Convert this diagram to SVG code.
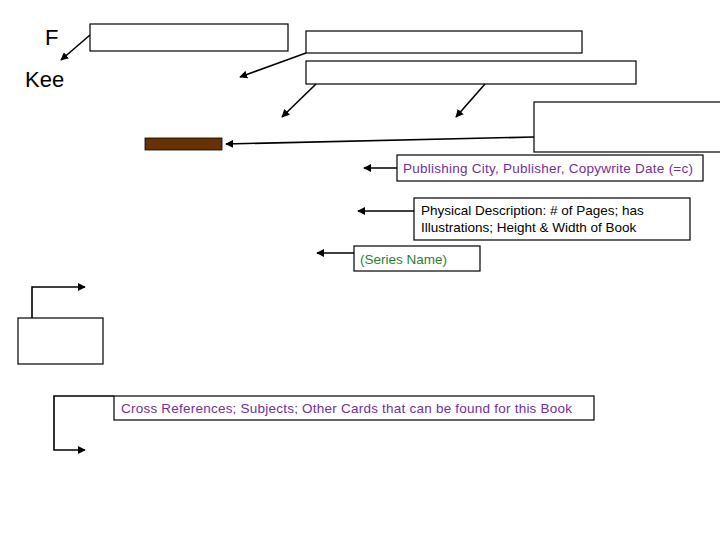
<svg xmlns="http://www.w3.org/2000/svg" width="720" height="540" viewBox="0 0 720 540">
<style>
.b{fill:#fff;stroke:#000;stroke-width:1.2}
.c{fill:none;stroke:#000;stroke-width:1.6}
.t{font-family:"Liberation Sans",Arial,sans-serif;font-size:13.5px;fill:#7030a0}
.k{font-family:"Liberation Sans",Arial,sans-serif;font-size:22px;fill:#000}
</style>
<defs><marker id="a" viewBox="0 0 10 10" refX="9" refY="5" markerWidth="5" markerHeight="5" orient="auto"><path d="M0,0L10,5L0,10z" fill="#000"/></marker></defs>
<rect width="720" height="540" fill="#fff"/>
<text class="k" x="45" y="45">F</text>
<text class="k" x="25" y="87">Kee</text>
<g id="n1"><rect class="b" x="90" y="24" width="198" height="27"/></g>
<g id="n2"><rect class="b" x="306" y="31" width="276" height="22"/></g>
<g id="n3"><rect class="b" x="306" y="61" width="330" height="23"/></g>
<g id="n4"><rect class="b" x="534" y="102" width="190" height="50"/></g>
<g id="n5"><rect x="145" y="138" width="77" height="12" fill="#663300" stroke="#000" stroke-width="0.8"/></g>
<g id="n6"><rect class="b" x="397" y="155" width="306" height="26"/><text class="t" x="403" y="173" textLength="290">Publishing City, Publisher, Copywrite Date (=c)</text></g>
<g id="n7"><rect class="b" x="414" y="198" width="276" height="42"/><text class="t" x="421" y="215" style="fill:#000">Physical Description: # of Pages; has</text><text class="t" x="421" y="232" style="fill:#000">Illustrations; Height &amp; Width of Book</text></g>
<g id="n8"><rect class="b" x="354" y="246" width="126" height="25"/><text class="t" x="360" y="264" style="fill:#2e7d32">(Series Name)</text></g>
<g id="n9"><rect class="b" x="18" y="318" width="85" height="46"/></g>
<g id="n10"><rect class="b" x="114" y="396" width="480" height="24"/><text class="t" x="121" y="413" textLength="451">Cross References; Subjects; Other Cards that can be found for this Book</text></g>
<g id="connectors">
<path class="c" d="M90,35L61,60" marker-end="url(#a)"/>
<path class="c" d="M306,53L240,77" marker-end="url(#a)"/>
<path class="c" d="M316,84L282,117" marker-end="url(#a)"/>
<path class="c" d="M485,84L456,117" marker-end="url(#a)"/>
<path class="c" d="M534,137L226,144" marker-end="url(#a)"/>
<path class="c" d="M397,168L364,168" marker-end="url(#a)"/>
<path class="c" d="M414,211L358,211" marker-end="url(#a)"/>
<path class="c" d="M354,253L317,253" marker-end="url(#a)"/>
<path class="c" d="M32,318V287H85" marker-end="url(#a)"/>
<path class="c" d="M114,396H54V450H85" marker-end="url(#a)"/>
</g>
</svg>
